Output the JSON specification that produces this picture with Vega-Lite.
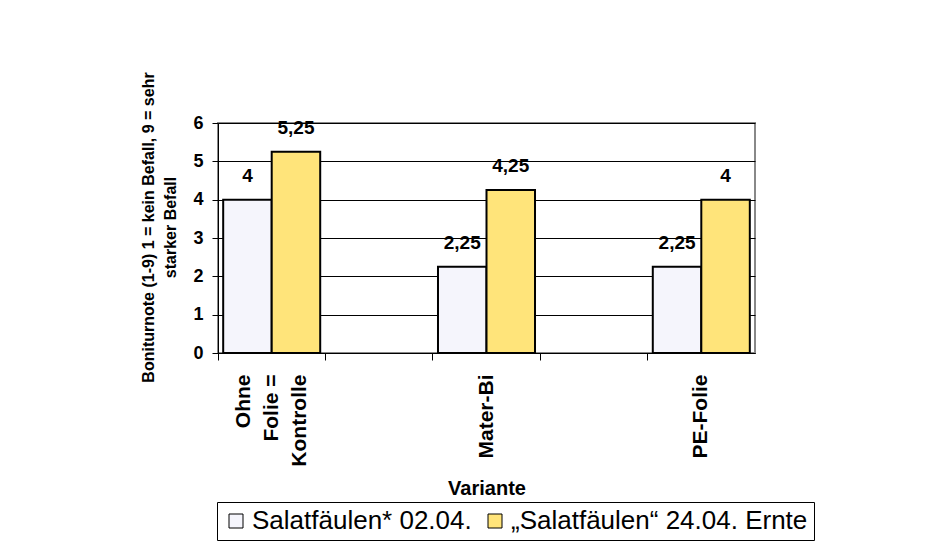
{
  "$schema": "https://vega.github.io/schema/vega-lite/v6.json",
  "width": 537,
  "height": 230,
  "autosize": {"type": "none"},
  "padding": {"left": 218, "top": 123, "right": 195, "bottom": 203},
  "background": "white",
  "config": {
    "font": "Liberation Sans",
    "view": {"stroke": "#888888", "strokeWidth": 2},
    "axis": {"domainColor": "black", "tickColor": "black", "labelColor": "black", "titleColor": "black", "labelFont": "Liberation Sans", "titleFont": "Liberation Sans"}
  },
  "data": {
    "values": [
      {"Variante": "Ohne Folie = Kontrolle", "Serie": "Salatfäulen* 02.04.", "Note": 4},
      {"Variante": "Ohne Folie = Kontrolle", "Serie": "„Salatfäulen“ 24.04. Ernte", "Note": 5.25},
      {"Variante": "Mater-Bi", "Serie": "Salatfäulen* 02.04.", "Note": 2.25},
      {"Variante": "Mater-Bi", "Serie": "„Salatfäulen“ 24.04. Ernte", "Note": 4.25},
      {"Variante": "PE-Folie", "Serie": "Salatfäulen* 02.04.", "Note": 2.25},
      {"Variante": "PE-Folie", "Serie": "„Salatfäulen“ 24.04. Ernte", "Note": 4}
    ]
  },
  "transform": [
    {"calculate": "replace(format(datum.Note, '.3~g'), '.', ',')", "as": "Beschriftung"}
  ],
  "encoding": {
    "x": {
      "field": "Variante",
      "type": "nominal",
      "scale": {"domain": ["Ohne Folie = Kontrolle", "leer1", "Mater-Bi", "leer2", "PE-Folie"], "paddingInner": 0, "paddingOuter": 0},
      "axis": {
        "title": "Variante",
        "titleFontSize": 20,
        "titleFontWeight": "bold",
        "titlePadding": 12,
        "labelAngle": -90,
        "labelFontSize": 21,
        "labelFontWeight": "bold",
        "labelLineHeight": 28,
        "labelPadding": 14,
        "labelOffset": {"condition": {"test": "datum.value == 'Ohne Folie = Kontrolle'", "value": -28}, "value": 0},
        "labelExpr": "datum.value == 'Ohne Folie = Kontrolle' ? ['Ohne', 'Folie =', 'Kontrolle'] : (indexof(datum.value, 'leer') == 0 ? '' : datum.value)",
        "tickSize": 7,
        "bandPosition": 0,
        "grid": false
      }
    },
    "xOffset": {"field": "Serie", "type": "nominal", "scale": {"domain": ["Salatfäulen* 02.04.", "„Salatfäulen“ 24.04. Ernte"], "paddingInner": 0, "paddingOuter": 0.107}},
    "y": {
      "field": "Note",
      "type": "quantitative",
      "scale": {"domain": [0, 6], "nice": false},
      "axis": {
        "title": ["Boniturnote (1-9) 1 = kein Befall, 9 = sehr", "starker Befall"],
        "titleFontSize": 16,
        "titleFontWeight": "bold",
        "titleLineHeight": 22,
        "titlePadding": 14,
        "titleY": 104,
        "values": [0, 1, 2, 3, 4, 5, 6],
        "labelFontSize": 18,
        "labelFontWeight": "bold",
        "labelPadding": 9,
        "tickSize": 6,
        "grid": true,
        "gridColor": "black"
      }
    }
  },
  "layer": [
    {
      "mark": {"type": "bar", "stroke": "black", "strokeWidth": 2},
      "encoding": {
        "color": {
          "field": "Serie",
          "type": "nominal",
          "scale": {"domain": ["Salatfäulen* 02.04.", "„Salatfäulen“ 24.04. Ernte"], "range": ["#F5F5FC", "#FFE47A"]},
          "legend": {
            "orient": "none",
            "legendX": -1,
            "legendY": 379,
            "direction": "horizontal",
            "title": null,
            "strokeColor": "black",
            "padding": 6,
            "symbolType": "square",
            "symbolSize": 196,
            "symbolStrokeColor": "black",
            "symbolStrokeWidth": 1,
            "labelFontSize": 26,
            "labelColor": "black",
            "labelOffset": 3,
            "columnPadding": 10,
            "labelLimit": 500
          }
        }
      }
    },
    {
      "mark": {"type": "text", "baseline": "alphabetic", "dy": -18, "fontSize": 19, "fontWeight": "bold", "color": "black"},
      "encoding": {
        "text": {"field": "Beschriftung", "type": "nominal"}
      }
    }
  ]
}
